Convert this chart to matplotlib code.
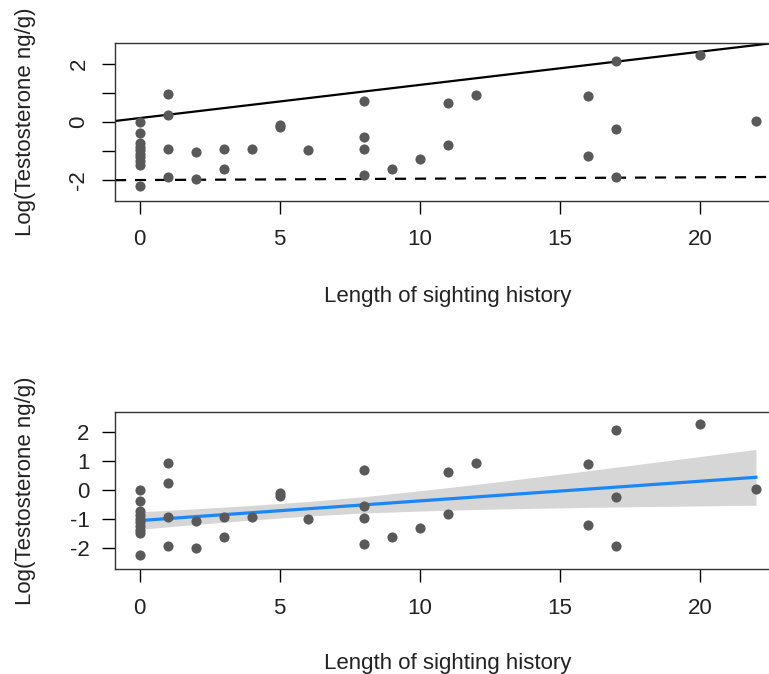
import matplotlib
matplotlib.use('Agg')
import matplotlib.pyplot as plt
import numpy as np

plt.rcParams['font.family'] = ['Liberation Sans', 'DejaVu Sans']

# sighting history length (x) and log testosterone (y)
hist_x = [0, 0, 0, 0, 0, 0, 0, 0, 0, 0,
          1, 1, 1, 1,
          2, 2,
          3, 3,
          4,
          5, 5,
          6,
          8, 8, 8, 8,
          9,
          10,
          11, 11,
          12,
          16, 16,
          17, 17, 17,
          20,
          22]
log_t = [0.0, -0.37, -0.72, -0.85, -0.98, -1.10, -1.22, -1.35, -1.47, -2.22,
         0.95, 0.24, -0.93, -1.91,
         -1.04, -1.97,
         -0.93, -1.61,
         -0.93,
         -0.10, -0.19,
         -0.97,
         0.70, -0.53, -0.95, -1.84,
         -1.61,
         -1.28,
         0.64, -0.80,
         0.94,
         0.90, -1.18,
         2.08, -0.23, -1.91,
         2.30,
         0.03]

# reference lines in the top panel (intercept, slope)
solid_line = (0.13, 0.114)
dashed_line = (-2.0, 0.0047)

# fitted line and confidence band in the bottom panel
fit_x = [0, 2, 4, 6, 8, 10, 12, 14, 16, 18, 20, 22]
fit_y = [-1.04, -0.905, -0.77, -0.634, -0.50, -0.363, -0.228, -0.092, 0.043, 0.179, 0.314, 0.45]
band_lo = [-1.34, -1.175, -1.02, -0.884, -0.78, -0.713, -0.658, -0.622, -0.587, -0.561, -0.536, -0.51]
band_hi = [-0.74, -0.635, -0.52, -0.384, -0.22, -0.013, 0.202, 0.438, 0.673, 0.919, 1.164, 1.41]

xticks = [0, 5, 10, 15, 20]
yticks = [-2, -1, 0, 1, 2]

W, H = 769, 674
fig = plt.figure(figsize=(W / 100, H / 100), dpi=100)

PT_COLOR = '#595959'
FS = 16
MS = 7.3
XLIM = (-0.88, 22.88)


def frame(ax):
    ax.set_xlim(*XLIM)
    ax.set_ylim(-2.72, 2.71)
    for s in ax.spines.values():
        s.set_color('#333333')
        s.set_linewidth(1.0)
    ax.set_xticks(xticks)
    ax.set_xticklabels([str(t) for t in xticks])
    ax.tick_params(axis='both', direction='out', length=9.4, width=1.0,
                   color='black', labelsize=FS, labelcolor='#222222')
    ax.tick_params(axis='x', pad=11)


# top panel
ax1 = fig.add_axes([115 / W, 1 - 201 / H, 665.6 / W, 158 / H])
frame(ax1)
ax1.plot(hist_x, log_t, 'o', color=PT_COLOR, markersize=MS, markeredgewidth=0, zorder=3)
xx = np.array(XLIM)
ax1.plot(xx, solid_line[0] + solid_line[1] * xx, '-', color='black', lw=1.6)
ax1.plot(xx, dashed_line[0] + dashed_line[1] * xx, '--', color='black', lw=1.6,
         dashes=(5, 4))
ax1.set_yticks(yticks)
ax1.set_yticklabels(['-2', '', '0', '', '2'], rotation=90, va='center')
ax1.tick_params(axis='y', pad=9)

# bottom panel
ax2 = fig.add_axes([115 / W, 1 - 569.3 / H, 665.6 / W, 157.6 / H])
frame(ax2)
ax2.fill_between(fit_x, band_lo, band_hi, color='#d6d6d6', lw=0, zorder=1)
ax2.plot(fit_x, fit_y, '-', color='#1a86f7', lw=2.3, zorder=2)
ax2.plot(hist_x, log_t, 'o', color=PT_COLOR, markersize=MS, markeredgewidth=0, zorder=3)
ax2.set_yticks(yticks)
ax2.set_yticklabels([str(t) for t in yticks])
ax2.tick_params(axis='y', pad=9)

# axis titles
for yc, xc in [(121.5, 297), (491, 663)]:
    fig.text(25 / W, 1 - yc / H, 'Log(Testosterone ng/g)', rotation=90,
             ha='center', va='center', fontsize=FS, color='#222222')
    fig.text(448 / W, 1 - xc / H, 'Length of sighting history',
             ha='center', va='center', fontsize=FS, color='#222222')

fig.savefig('out.png', dpi=100)
